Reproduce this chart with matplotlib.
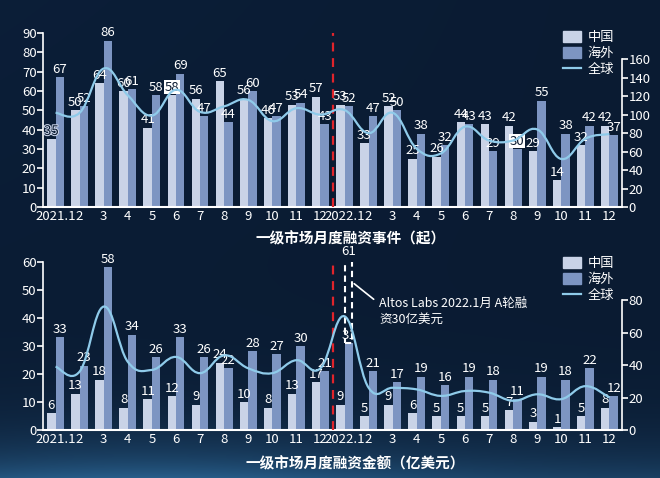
import numpy as np
import matplotlib.pyplot as plt
import matplotlib.patheffects as pe
from matplotlib.path import Path
from matplotlib.patches import PathPatch, Patch, Rectangle
from matplotlib.lines import Line2D

plt.rcParams['font.family'] = ['Noto Sans CJK SC', 'DejaVu Sans']

# x tick labels (2021.1 - 2022.12)
months = ['2021.1'] + [str(m) for m in range(2, 13)] + ['2022.1'] + [str(m) for m in range(2, 13)]

# monthly financing events (count)
events_cn = [35, 50, 64, 60, 41, 58, 56, 65, 56, 46, 53, 57,
             53, 33, 52, 25, 26, 44, 43, 42, 29, 14, 32, 42]
events_os = [67, 52, 86, 61, 58, 69, 47, 44, 60, 47, 54, 43,
             52, 47, 50, 38, 32, 43, 29, 30, 55, 38, 42, 37]
events_all = [102, 102, 150, 121, 99, 127, 103, 109, 116, 93, 107, 100,
              105, 80, 102, 63, 58, 87, 72, 72, 84, 52, 74, 79]

# monthly financing amount (100M USD)
amount_cn = [6, 13, 18, 8, 11, 12, 9, 24, 10, 8, 13, 17,
             9, 5, 9, 6, 5, 5, 5, 7, 3, 1, 5, 8]
amount_os = [33, 23, 58, 34, 26, 33, 26, 22, 28, 27, 30, 21,
             31, 21, 17, 19, 16, 19, 18, 11, 19, 18, 22, 12]
amount_all = [39, 36, 76, 42, 37, 45, 35, 46, 38, 35, 43, 38,
              70, 26, 26, 25, 21, 24, 23, 18, 22, 19, 27, 20]
altos_extra = 30  # Altos Labs, 2022.1

C_CN = '#c9d3e7'
C_OS = '#7d95c2'
C_LINE = '#8fcbea'
BG = '#0a1b32'

fig = plt.figure(figsize=(6.6, 4.78), dpi=100)

# background with glow at the bottom
h, w = 478, 660
yy, xx = np.mgrid[0:h, 0:w]
base = np.array([10, 27, 50]) / 255.0
glow = np.array([40, 95, 140]) / 255.0
t = np.exp(-(h - yy) / 35.0) * (0.55 + 0.45 * np.exp(-((xx - 150) / 260.0) ** 2))
shade = 1 + 0.12 * (1 - yy / h) * (1 - xx / w)
img = base[None, None, :] * shade[..., None] * (1 - t[..., None]) + glow[None, None, :] * t[..., None]
bg_ax = fig.add_axes([0, 0, 1, 1], zorder=-10)
bg_ax.imshow(np.clip(img, 0, 1), aspect='auto', extent=[0, 1, 0, 1])
bg_ax.axis('off')


def smooth_line(ax, x, y, color):
    x = np.asarray(x, float)
    y = np.asarray(y, float)
    pts = np.column_stack([x, y])
    padded = np.vstack([pts[0], pts, pts[-1]])
    verts = [pts[0]]
    codes = [Path.MOVETO]
    for i in range(len(pts) - 1):
        p0, p1, p2, p3 = padded[i], padded[i + 1], padded[i + 2], padded[i + 3]
        c1 = p1 + (p2 - p0) / 5.0
        c2 = p2 - (p3 - p1) / 5.0
        verts += [c1, c2, p2]
        codes += [Path.CURVE4] * 3
    ax.add_patch(PathPatch(Path(verts, codes), fill=False, edgecolor=color, lw=1.6, zorder=3))


def draw_panel(rect, cn, os_, total, ymax, rmax, rticks, lticks, special):
    ax = fig.add_axes(rect)
    ax.set_facecolor('none')
    x = np.arange(len(cn))
    bw = 0.35
    ax.bar(x - bw / 2, cn, bw, color=C_CN, zorder=2)
    ax.bar(x + bw / 2, os_, bw, color=C_OS, zorder=2)
    for i in range(len(cn)):
        for val, xo, key in [(cn[i], x[i] - bw / 2, ('cn', i)), (os_[i], x[i] + bw / 2, ('os', i))]:
            kw = dict(ha='center', va='bottom', fontsize=9.5, color='white', zorder=6)
            if key in special:
                kw.update(special[key])
            ax.text(xo, val + ymax * 0.008, str(val), **kw)
    ax.set_xlim(-0.5, len(cn) - 0.5)
    ax.set_ylim(0, ymax)
    ax.set_yticks(lticks)
    ax.set_xticks(x)
    ax.set_xticklabels(months)
    ax.axvline(11.5, color='#e0242b', ls=(0, (4, 3)), lw=1.6, zorder=5)
    for s in ['top', 'right']:
        ax.spines[s].set_visible(False)
    ax.spines['left'].set_color('white')
    ax.spines['bottom'].set_color('white')
    ax.spines['bottom'].set_linewidth(1.5)
    ax.spines['left'].set_linewidth(1.2)
    ax.tick_params(axis='y', colors='white', labelsize=9.5, length=4, width=1.2, pad=1)
    ax.tick_params(axis='x', colors='white', labelsize=9.5, length=0, pad=2)

    ax2 = ax.twinx()
    ax2.set_ylim(0, rmax)
    ax2.set_yticks(rticks)
    smooth_line(ax2, x, total, C_LINE)
    for s in ['top', 'left', 'bottom']:
        ax2.spines[s].set_visible(False)
    ax2.spines['right'].set_color('white')
    ax2.spines['right'].set_linewidth(1.2)
    ax2.spines['right'].set_bounds(0, rticks[-1])
    ax2.tick_params(axis='y', colors='white', labelsize=9.5, length=4, width=1.2, pad=1)
    return ax, ax2


handles = [Patch(color=C_CN, label='中国'), Patch(color=C_OS, label='海外'),
           Line2D([], [], color=C_LINE, lw=1.6, label='全球')]

special_top = {
    ('cn', 0): dict(color='#0a1a30', path_effects=[pe.withStroke(linewidth=1.5, foreground='#c9d3e7')]),
    ('cn', 5): dict(color='#0a1a30', bbox=dict(boxstyle='square,pad=0.05', fc='white', ec='none')),
    ('os', 19): dict(color='#0a1a30', bbox=dict(boxstyle='square,pad=0.05', fc='white', ec='none')),
}
ax_a, ax_a2 = draw_panel([0.0659, 0.5669, 0.8758, 0.364], events_cn, events_os, events_all,
                         90, 188.4, list(range(0, 161, 20)), list(range(0, 91, 10)), special_top)
ax_a2.legend(handles=handles, loc='upper left', bbox_to_anchor=(556 / 660, 1 - 24 / 478),
             bbox_transform=fig.transFigure, frameon=False, labelcolor='white', fontsize=9.5,
             handlelength=1.4, handleheight=1.0, labelspacing=0.2, borderpad=0, handletextpad=0.5)

ax_b, ax_b2 = draw_panel([0.0659, 0.1004, 0.8758, 0.352], amount_cn, amount_os, amount_all,
                         60, 103.6, list(range(0, 81, 20)), list(range(0, 61, 10)), {})
ax_b2.legend(handles=handles, loc='upper left', bbox_to_anchor=(556 / 660, 1 - 250 / 478),
             bbox_transform=fig.transFigure, frameon=False, labelcolor='white', fontsize=9.5,
             handlelength=1.4, handleheight=1.0, labelspacing=0.2, borderpad=0, handletextpad=0.5)

# Altos Labs dashed box on 2022.1 overseas bar
ax_b.add_patch(Rectangle((12 + 0.175 - 0.14, amount_os[12]), 0.28, altos_extra, fill=False,
                         ec='white', ls=(0, (3, 2)), lw=1.5, zorder=4))
ax_b.text(12 + 0.175, amount_os[12] + altos_extra + 0.5, str(amount_os[12] + altos_extra),
          ha='center', va='bottom', fontsize=9.5, color='white', zorder=6)
ax_b.annotate('', xy=(12.31, 52.8), xytext=(13.3, 46),
              arrowprops=dict(arrowstyle='-', color='white', lw=1.2))
ax_b.text(13.45, 47.5, 'Altos Labs 2022.1月 A轮融\n资30亿美元', ha='left', va='top',
          fontsize=9, color='white', linespacing=1.35, zorder=6)

fig.text(351 / 660, 1 - 238 / 478, '一级市场月度融资事件（起）', ha='center', va='center',
         fontsize=10.5, fontweight='bold', color='white')
fig.text(355 / 660, 1 - 463 / 478, '一级市场月度融资金额（亿美元）', ha='center', va='center',
         fontsize=10.5, fontweight='bold', color='white')

fig.savefig('out.png', dpi=100, facecolor=BG)
